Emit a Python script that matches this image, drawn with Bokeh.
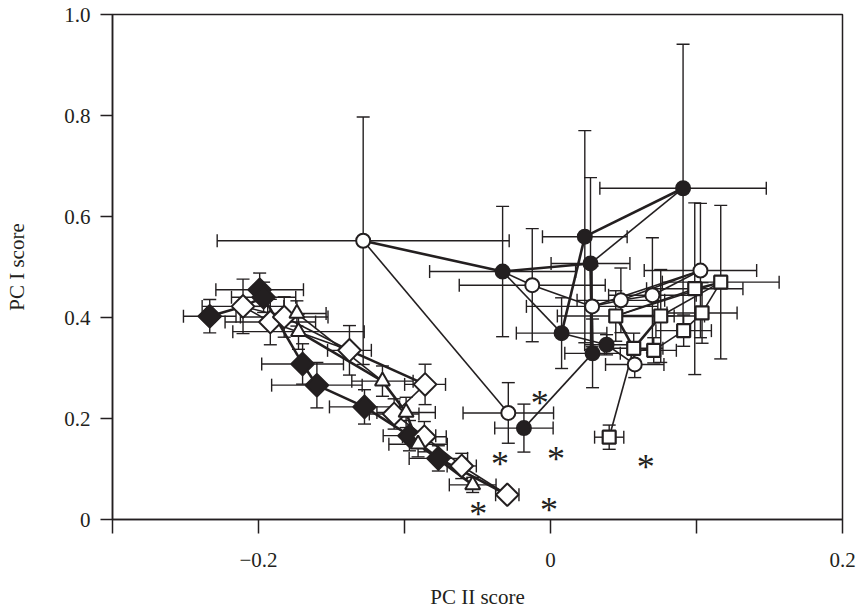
import numpy as np
from bokeh.plotting import figure
from bokeh.models import ColumnDataSource, Whisker, TeeHead, FixedTicker
from bokeh.core.properties import value
from bokeh.embed import file_html
from bokeh.resources import INLINE

INK = "#231f20"
FONT = "Liberation Serif"

# ---------------- data (PC II score = x, PC I score = y) ----------------
# circles (open / filled)
circ_x = [-0.1283, -0.0328, -0.0125, 0.0235, 0.0274, 0.0908, 0.0076, 0.0384,
          0.0288, -0.0182, -0.0289, 0.0285, 0.0482, 0.0698, 0.1027, 0.0577]
circ_y = [0.552, 0.491, 0.464, 0.560, 0.507, 0.656, 0.369, 0.346,
          0.329, 0.181, 0.211, 0.422, 0.434, 0.444, 0.493, 0.307]
circ_xe = [0.100, 0.050, 0.050, 0.029, 0.027, 0.057, 0.031, 0.015,
           0.019, 0.020, 0.031, 0.045, 0.030, 0.030, 0.0385, 0.020]
circ_ye = [0.245, 0.129, 0.112, 0.210, 0.170, 0.285, 0.070, 0.020,
           0.068, 0.0475, 0.060, 0.080, 0.064, 0.114, 0.133, 0.026]
circ_filled = [0, 1, 0, 1, 1, 1, 1, 1, 1, 1, 0, 0, 0, 0, 0, 0]
circ_thick = [(0, 1), (1, 4), (6, 3), (3, 5), (4, 8)]
circ_thin = [(10, 0), (1, 2), (2, 11), (11, 12), (12, 13), (13, 14), (12, 14),
             (4, 5), (1, 6), (8, 9), (6, 7), (7, 15), (11, 14)]

# diamonds (open / filled)
dia_x = [-0.2334, -0.2106, -0.1992, -0.1965, -0.1919, -0.1824, -0.1698, -0.1600,
         -0.1377, -0.1274, -0.0859, -0.1071, -0.0966, -0.0864, -0.0768, -0.0608, -0.0296]
dia_y = [0.4025, 0.422, 0.455, 0.440, 0.391, 0.401, 0.308, 0.266,
         0.335, 0.223, 0.2675, 0.209, 0.166, 0.164, 0.121, 0.106, 0.049]
dia_xe = [0.018, 0.028, 0.030, 0.022, 0.031, 0.030, 0.028, 0.031,
          0.015, 0.024, 0.014, 0.017, 0.018, 0.015, 0.020, 0.010, 0.008]
dia_ye = [0.033, 0.054, 0.033, 0.030, 0.045, 0.040, 0.040, 0.045,
          0.049, 0.034, 0.040, 0.030, 0.030, 0.030, 0.025, 0.025, 0.010]
dia_filled = [1, 0, 1, 1, 0, 0, 1, 1, 0, 1, 0, 0, 1, 0, 1, 0, 0]
dia_thick = [(0, 1), (1, 3), (2, 3), (3, 6), (6, 7), (7, 9), (9, 12), (12, 14),
             (14, 16), (8, 10)]
dia_thin = [(1, 4), (1, 5), (5, 8), (4, 8), (10, 11), (11, 13), (13, 15), (15, 16)]

# triangles (open)
tri_x = [-0.1737, -0.1726, -0.1151, -0.0989, -0.0907, -0.0533]
tri_y = [0.408, 0.372, 0.274, 0.212, 0.149, 0.0685]
tri_xe = [0.020, 0.045, 0.021, 0.020, 0.020, 0.016]
tri_ye = [0.025, 0.035, 0.030, 0.030, 0.025, 0.015]
tri_thick = [(1, 2), (2, 3), (3, 4), (4, 5)]
tri_thin = [(0, 2)]

# squares (open)
sq_x = [0.1166, 0.0988, 0.0447, 0.0755, 0.1038, 0.0912, 0.0570, 0.0707, 0.0402]
sq_y = [0.470, 0.457, 0.403, 0.403, 0.409, 0.374, 0.339, 0.335, 0.163]
sq_xe = [0.040, 0.033, 0.040, 0.030, 0.024, 0.019, 0.020, 0.0155, 0.010]
sq_ye = [0.152, 0.170, 0.050, 0.092, 0.060, 0.031, 0.030, 0.025, 0.024]
sq_thick = [(2, 6), (3, 6), (2, 3)]
sq_thin = [(8, 6), (3, 0), (2, 1), (1, 0), (7, 5), (5, 4), (4, 0), (6, 7), (2, 0)]

# asterisks
ast_x = [-0.0073, -0.0346, 0.0037, -0.0495, -0.0011, 0.0653]
ast_y = [0.248, 0.127, 0.137, 0.029, 0.036, 0.121]

x_ticks = [-0.3, -0.2, -0.1, 0.0, 0.1, 0.2]
x_labels = ["", "\u22120.2", "", "0", "", "0.2"]
y_ticks = [0.0, 0.2, 0.4, 0.6, 0.8, 1.0]
y_labels = ["0", "0.2", "0.4", "0.6", "0.8", "1.0"]

# ---------------- figure ----------------
p = figure(width=857, height=611, x_range=(-0.3, 0.2), y_range=(0.0, 1.0),
           output_backend="svg", toolbar_location=None,
           min_border_left=112, min_border_right=15, min_border_top=14,
           min_border_bottom=86)
p.grid.visible = False
p.outline_line_color = INK
p.outline_line_width = 1.5
p.background_fill_color = "white"
p.border_fill_color = "white"


def add_errorbars(xs, ys, xe, ye):
    xs = np.array(xs); ys = np.array(ys); xe = np.array(xe); ye = np.array(ye)
    src = ColumnDataSource(dict(x=xs, y=ys, xl=xs - xe, xu=xs + xe,
                                yl=ys - ye, yu=ys + ye))
    for dim, base, lo, up in (("width", "y", "xl", "xu"), ("height", "x", "yl", "yu")):
        w = Whisker(source=src, base=base, lower=lo, upper=up, dimension=dim,
                    line_color=INK, line_width=1.4, level="underlay",
                    lower_head=TeeHead(size=13, line_color=INK, line_width=1.4),
                    upper_head=TeeHead(size=13, line_color=INK, line_width=1.4))
        p.add_layout(w)


def add_links(xs, ys, pairs, width):
    p.segment(x0=[xs[i] for i, j in pairs], y0=[ys[i] for i, j in pairs],
              x1=[xs[j] for i, j in pairs], y1=[ys[j] for i, j in pairs],
              line_color=INK, line_width=width)


for xs, ys, xe, ye in ((circ_x, circ_y, circ_xe, circ_ye), (dia_x, dia_y, dia_xe, dia_ye),
                       (tri_x, tri_y, tri_xe, tri_ye), (sq_x, sq_y, sq_xe, sq_ye)):
    add_errorbars(xs, ys, xe, ye)

THICK, THIN = 2.6, 1.6
add_links(circ_x, circ_y, circ_thin, THIN)
add_links(circ_x, circ_y, circ_thick, THICK)
add_links(dia_x, dia_y, dia_thin, THIN)
add_links(dia_x, dia_y, dia_thick, THICK)
add_links(tri_x, tri_y, tri_thin, THIN)
add_links(tri_x, tri_y, tri_thick, THICK)
add_links(sq_x, sq_y, sq_thin, THIN)
add_links(sq_x, sq_y, sq_thick, THICK)

# markers
p.scatter(x=dia_x, y=dia_y, marker="square", angle=np.pi / 4, size=16,
          fill_color=[INK if f else "white" for f in dia_filled],
          line_color=INK, line_width=2)
p.scatter(x=tri_x, y=tri_y, marker="triangle", size=15, fill_color="white",
          line_color=INK, line_width=2)
p.scatter(x=sq_x, y=sq_y, marker="square", size=13, fill_color="white",
          line_color=INK, line_width=2.2)
p.scatter(x=circ_x, y=circ_y, marker="circle", size=14,
          fill_color=[INK if f else "white" for f in circ_filled],
          line_color=INK, line_width=2)

p.text(x=ast_x, y=ast_y, text=["*"] * len(ast_x), text_font=value(FONT),
       text_font_size="36px", text_align="center", text_baseline="middle",
       y_offset=9, text_color=INK)

# axes
for ax in (p.xaxis[0], p.yaxis[0]):
    ax.axis_line_color = INK
    ax.axis_line_width = 1.5
    ax.major_tick_line_color = INK
    ax.major_tick_line_width = 1.5
    ax.major_tick_in = 0
    ax.minor_tick_line_color = None
    ax.major_label_text_font = FONT
    ax.major_label_text_font_size = "21px"
    ax.major_label_text_color = INK
    ax.axis_label_text_font = FONT
    ax.axis_label_text_font_size = "21px"
    ax.axis_label_text_font_style = "normal"
    ax.axis_label_text_color = INK

p.xaxis.ticker = FixedTicker(ticks=x_ticks)
p.xaxis.major_label_overrides = dict(zip(x_ticks, x_labels))
p.xaxis.major_tick_out = 14
p.xaxis.major_label_standoff = 19
p.xaxis.axis_label = "PC II score"
p.xaxis.axis_label_standoff = 15

p.yaxis.ticker = FixedTicker(ticks=y_ticks)
p.yaxis.major_label_overrides = dict(zip(y_ticks, y_labels))
p.yaxis.major_tick_out = 12
p.yaxis.major_label_standoff = 10
p.yaxis.axis_label = "PC I score"
p.yaxis.axis_label_standoff = 32

open("out.html", "w").write(file_html(p, INLINE))
